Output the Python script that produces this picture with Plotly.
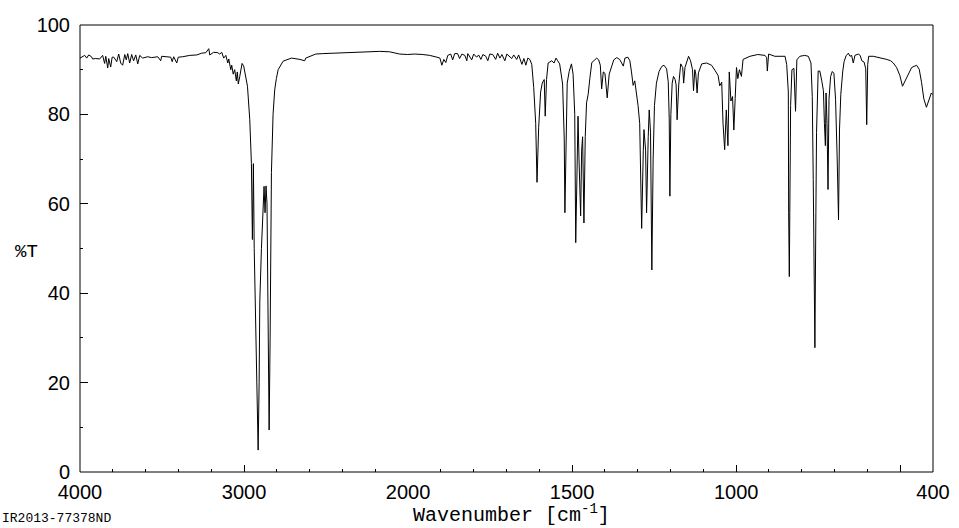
import plotly.graph_objects as go

# ---------------- data ----------------
wavenumber = [
    4000, 3984, 3971, 3959, 3947, 3930, 3923, 3904, 3880, 3862, 3850, 3843, 3831, 3825,
    3813, 3804, 3794, 3776, 3764, 3752, 3740, 3727, 3718, 3709, 3697, 3685, 3673, 3660,
    3648, 3636, 3618, 3587, 3563, 3526, 3508, 3502, 3471, 3447, 3438, 3429, 3410, 3401,
    3374, 3331, 3288, 3258, 3233, 3215, 3209, 3185, 3160, 3148, 3136, 3124, 3111, 3099,
    3093, 3081, 3075, 3066, 3057, 3047, 3041, 3035, 3026, 3012, 3002, 2990, 2979, 2965,
    2955, 2949, 2943, 2938, 2929, 2925, 2914, 2908, 2904, 2894, 2884, 2878, 2872, 2866,
    2860, 2855, 2847, 2841, 2837, 2833, 2823, 2813, 2803, 2792, 2762, 2711, 2660, 2630,
    2624, 2600, 2563, 2520, 2459, 2398, 2325, 2252, 2221, 2173, 2112, 2076, 2051, 2002,
    1980, 1955, 1934, 1912, 1903, 1897, 1891, 1885, 1879, 1870, 1864, 1858, 1849, 1843,
    1836, 1827, 1821, 1818, 1812, 1806, 1800, 1791, 1785, 1778, 1772, 1763, 1757, 1751,
    1742, 1733, 1727, 1720, 1714, 1705, 1699, 1690, 1684, 1678, 1669, 1663, 1653, 1647,
    1641, 1635, 1629, 1623, 1617, 1611, 1607, 1602, 1596, 1591, 1585, 1582, 1578, 1573,
    1568, 1562, 1555, 1549, 1544, 1538, 1529, 1524, 1522, 1519, 1515, 1509, 1502, 1497,
    1492, 1489, 1485, 1482, 1479, 1474, 1471, 1468, 1464, 1460, 1456, 1451, 1446, 1440,
    1431, 1425, 1419, 1414, 1410, 1405, 1400, 1393, 1387, 1380, 1373, 1364, 1355, 1344,
    1339, 1330, 1324, 1319, 1314, 1309, 1304, 1299, 1294, 1288, 1283, 1281, 1276, 1273,
    1268, 1265, 1261, 1257, 1253, 1249, 1243, 1235, 1227, 1220, 1212, 1207, 1204, 1202,
    1199, 1195, 1191, 1186, 1183, 1180, 1175, 1169, 1163, 1160, 1156, 1149, 1145, 1139,
    1133, 1130, 1126, 1123, 1119, 1115, 1105, 1090, 1075, 1065, 1055, 1050, 1044, 1040,
    1035, 1030, 1025, 1021, 1016, 1011, 1007, 1003, 999, 995, 990, 984, 979, 958,
    934, 912, 907, 905, 901, 882, 851, 846, 841, 840, 838, 834, 830, 824,
    819, 815, 806, 791, 780, 772, 768, 765, 762, 760, 757, 755, 750, 745,
    739, 734, 731, 728, 726, 723, 720, 717, 712, 707, 702, 697, 692, 688,
    685, 681, 675, 671, 665, 658, 653, 648, 643, 638, 628, 622, 617, 610,
    605, 602, 599, 596, 582, 562, 541, 529, 521, 511, 501, 493, 480, 465,
    450, 442, 435, 428, 420, 412, 405, 400,
]

transmittance = [
    92.6, 93.0, 93.2, 92.6, 93.3, 92.9, 92.4, 92.5, 92.4, 93.2, 91.4, 93.0, 90.4, 92.5,
    90.6, 92.8, 92.8, 91.8, 93.5, 91.5, 91.0, 93.4, 92.2, 93.6, 91.5, 93.4, 92.0, 93.3,
    91.3, 93.2, 92.6, 92.9, 92.7, 92.9, 92.0, 93.0, 92.9, 92.8, 91.8, 92.9, 91.5, 92.8,
    92.9, 93.2, 93.3, 93.7, 93.8, 94.7, 93.3, 93.9, 93.8, 93.5, 93.9, 92.6, 93.2, 91.5,
    92.4, 90.0, 91.0, 89.0, 90.0, 87.5, 89.5, 86.8, 88.5, 91.4, 90.8, 88.5, 86.3, 78.8,
    69.0, 52.0, 69.0, 50.0, 33.0, 31.0, 4.9, 20.0, 38.0, 50.0, 58.0, 63.9, 58.0, 64.0,
    60.0, 42.0, 9.4, 30.0, 55.0, 67.0, 80.0, 85.5, 88.0, 90.0, 91.9, 92.6, 92.3, 92.0,
    92.6, 93.0, 93.5, 93.6, 93.7, 93.8, 93.8, 93.9, 94.1, 94.1, 94.0, 93.7, 93.5, 93.4,
    93.5, 93.4, 93.2, 92.8, 92.6, 91.0, 92.3, 91.6, 93.2, 93.5, 92.2, 93.6, 93.6, 92.5,
    93.5, 93.2, 92.0, 93.6, 93.0, 92.2, 93.5, 92.8, 93.3, 92.3, 93.4, 93.0, 92.0, 93.5,
    93.4, 92.3, 93.7, 92.6, 93.4, 92.0, 93.5, 93.0, 92.5, 93.3, 92.3, 93.3, 91.2, 92.5,
    91.0, 92.6, 92.3, 91.2, 86.0, 78.0, 64.8, 77.0, 85.0, 87.0, 87.8, 79.6, 87.8, 91.5,
    91.8, 92.0, 91.5, 92.6, 92.0, 91.3, 86.8, 74.5, 58.0, 73.0, 87.0, 89.6, 91.3, 89.0,
    80.0, 51.3, 71.0, 79.6, 70.0, 57.3, 72.0, 75.0, 55.7, 75.0, 82.6, 84.5, 88.0, 91.6,
    92.2, 92.6, 92.2, 91.0, 85.7, 89.5, 89.2, 83.7, 89.0, 90.5, 92.2, 92.7, 92.3, 90.8,
    92.6, 92.8, 92.0, 89.5, 86.5, 87.5, 85.0, 82.0, 78.0, 54.5, 72.0, 76.6, 72.0, 58.0,
    75.0, 81.0, 76.0, 45.2, 70.0, 82.0, 87.0, 89.6, 90.7, 91.0, 90.2, 87.3, 79.0, 61.7,
    80.0, 87.0, 88.5, 87.8, 86.6, 78.8, 86.6, 91.3, 90.5, 87.0, 90.5, 92.0, 93.0, 92.0,
    90.0, 85.3, 90.0, 89.0, 84.8, 89.3, 91.3, 91.5, 91.0, 89.9, 88.7, 86.4, 87.2, 78.0,
    72.1, 81.0, 73.0, 89.5, 83.0, 84.0, 76.5, 83.5, 90.5, 88.0, 90.0, 88.5, 92.3, 93.0,
    93.4, 93.2, 92.7, 89.7, 93.5, 93.0, 93.0, 91.2, 85.0, 58.0, 43.7, 82.0, 90.0, 90.3,
    80.7, 92.2, 93.0, 93.2, 93.0, 91.5, 84.0, 65.4, 46.7, 27.8, 58.0, 76.0, 89.7, 89.7,
    87.5, 85.3, 78.0, 73.0, 84.8, 78.0, 63.2, 83.4, 88.5, 89.6, 89.2, 83.4, 70.0, 56.4,
    76.5, 84.5, 89.7, 91.8, 93.1, 93.7, 93.0, 93.2, 91.5, 93.2, 93.5, 93.2, 92.0, 91.7,
    90.2, 77.7, 91.2, 93.0, 93.0, 92.7, 92.3, 92.0, 91.5, 90.5, 88.7, 86.3, 88.3, 90.5,
    91.0, 90.1, 87.2, 83.5, 81.6, 83.5, 84.8, 84.4,
]

x_ticks_high = [4000, 3000, 2000]
x_ticks_low = [1500, 1000, 500, 400]
x_ticktext_low = ["1500", "1000", "", "400"]
y_ticks = [0, 20, 40, 60, 80, 100]

BREAK = 2000  # scale changes at 2000 cm-1 (2x expansion below)

# split data into the two scale regions (one overlapping point each for continuity)
hi_idx = [i for i, w in enumerate(wavenumber) if w >= BREAK]
lo_idx = [i for i, w in enumerate(wavenumber) if w <= BREAK]
hi_idx = hi_idx + [hi_idx[-1] + 1]
lo_idx = [lo_idx[0] - 1] + lo_idx

mono = "Courier New, Liberation Mono, monospace"
sans = "Arial, Liberation Sans, sans-serif"
split = 1000 / 2600

fig = go.Figure()
fig.add_trace(go.Scatter(
    x=[wavenumber[i] for i in hi_idx], y=[transmittance[i] for i in hi_idx],
    mode="lines", line=dict(color="black", width=1), xaxis="x", yaxis="y",
    hoverinfo="skip"))
fig.add_trace(go.Scatter(
    x=[wavenumber[i] for i in lo_idx], y=[transmittance[i] for i in lo_idx],
    mode="lines", line=dict(color="black", width=1), xaxis="x2", yaxis="y",
    hoverinfo="skip"))

tick_common = dict(
    ticks="inside", tickcolor="black", tickwidth=1, showgrid=False, zeroline=False,
    showline=False, automargin=False,
    tickfont=dict(family=sans, size=20, color="black"),
)

fig.update_layout(
    width=959, height=528,
    margin=dict(l=80, r=26, t=25, b=56, autoexpand=False),
    paper_bgcolor="white", plot_bgcolor="white",
    showlegend=False,
    xaxis=dict(domain=[0, split], range=[4000, BREAK], anchor="y",
               tickmode="array", tickvals=x_ticks_high, ticklen=7,
               ticklabelstandoff=6,
               minor=dict(tickmode="linear", tick0=0, dtick=200, ticks="inside",
                          ticklen=3, tickcolor="black", showgrid=False),
               **tick_common),
    xaxis2=dict(domain=[split, 1], range=[BREAK, 400], anchor="y",
                tickmode="array", tickvals=x_ticks_low, ticktext=x_ticktext_low,
                ticklen=7, ticklabelstandoff=6,
                minor=dict(tickmode="linear", tick0=0, dtick=100, ticks="inside",
                           ticklen=3, tickcolor="black", showgrid=False),
                **tick_common),
    yaxis=dict(range=[0, 100], anchor="x", tickmode="array", tickvals=y_ticks,
               ticklen=8, ticklabelstandoff=9,
               minor=dict(tickmode="linear", tick0=0, dtick=10, ticks="inside",
                          ticklen=3, tickcolor="black", showgrid=False),
               **tick_common),
    shapes=[dict(type="rect", xref="paper", yref="paper", x0=0, x1=1, y0=0, y1=1,
                 line=dict(color="black", width=1), fillcolor="rgba(0,0,0,0)",
                 layer="above")],
    annotations=[
        dict(text="%T", xref="paper", yref="paper", x=-0.0633, y=0.4927,
             xanchor="center", yanchor="middle", showarrow=False,
             font=dict(family=mono, size=19, color="black")),
        dict(text="Wavenumber [cm<sup>-1</sup>]", xref="paper", yref="paper",
             x=0.506, y=-0.095, xanchor="center", yanchor="middle", showarrow=False,
             font=dict(family=mono, size=20, color="black")),
        dict(text="IR2013-77378ND", xref="paper", yref="paper", x=-0.0938, y=-0.105,
             xanchor="left", yanchor="middle", showarrow=False,
             font=dict(family=mono, size=13, color="black")),
    ],
)

fig.write_html("out.html")
